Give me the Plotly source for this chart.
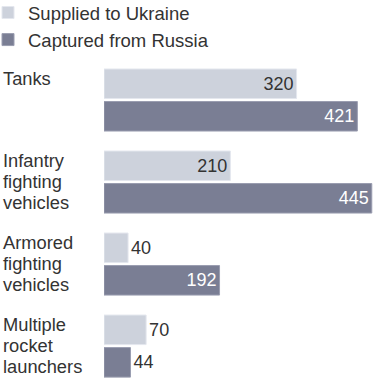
import plotly.graph_objects as go

categories = ["Tanks", "Infantry<br>fighting<br>vehicles", "Armored<br>fighting<br>vehicles", "Multiple<br>rocket<br>launchers"]
supplied = [320, 210, 40, 70]
captured = [421, 445, 192, 44]
series_names = ["Supplied to Ukraine", "Captured from Russia"]

C_LIGHT = "#CDD2DC"
C_DARK = "#7A7E94"
TXT = "#333333"
FONT = "Liberation Sans, Arial, sans-serif"

L_MARGIN, PLOT_W = 104, 272
idx = list(range(len(categories)))


def positions(vals):
    return ["inside" if v > 100 else "outside" for v in vals]


fig = go.Figure()
fig.add_trace(go.Bar(
    y=idx, x=supplied, orientation="h", name=series_names[0],
    marker=dict(color=C_LIGHT, line=dict(color="#E4E7EE", width=1)),
    text=[str(v) for v in supplied], textposition=positions(supplied),
    insidetextanchor="end",
    insidetextfont=dict(color=TXT, size=18, family=FONT),
    outsidetextfont=dict(color=TXT, size=18, family=FONT),
    cliponaxis=False,
))
fig.add_trace(go.Bar(
    y=idx, x=captured, orientation="h", name=series_names[1],
    marker=dict(color=C_DARK, line=dict(color="#9A9DB0", width=1)),
    text=[str(v) for v in captured], textposition=positions(captured),
    insidetextanchor="end",
    insidetextfont=dict(color="#FFFFFF", size=18, family=FONT),
    outsidetextfont=dict(color=TXT, size=18, family=FONT),
    cliponaxis=False,
))

# left-aligned, tightly spaced category labels
for i, c in enumerate(categories):
    for j, line in enumerate(c.split("<br>")):
        fig.add_annotation(
            x=-L_MARGIN / PLOT_W, xref="paper", y=i, yref="y",
            text=line, showarrow=False, xanchor="left", yanchor="top", align="left",
            yshift=34.5 - 21 * j, xshift=1,
            font=dict(size=18.3, color=TXT, family=FONT),
        )

fig.update_layout(
    width=376, height=383,
    margin=dict(l=L_MARGIN, r=0, t=59, b=0, autoexpand=False),
    paper_bgcolor="white", plot_bgcolor="white",
    barmode="group", bargap=0.207, bargroupgap=0.092,
    showlegend=True,
    legend=dict(
        x=-(L_MARGIN + 12) / PLOT_W, xanchor="left", y=1 + 65 / 324, yanchor="top",
        orientation="v", font=dict(size=18.5, color=TXT, family=FONT),
        itemwidth=30, tracegroupgap=0, bgcolor="rgba(0,0,0,0)",
    ),
    xaxis=dict(range=[0, 452], visible=False, fixedrange=True),
    yaxis=dict(range=[3.45, -0.5], visible=False, fixedrange=True),
)

fig.write_html("out.html", config={"displayModeBar": False},
               post_script="document.body.style.margin='0px';")
